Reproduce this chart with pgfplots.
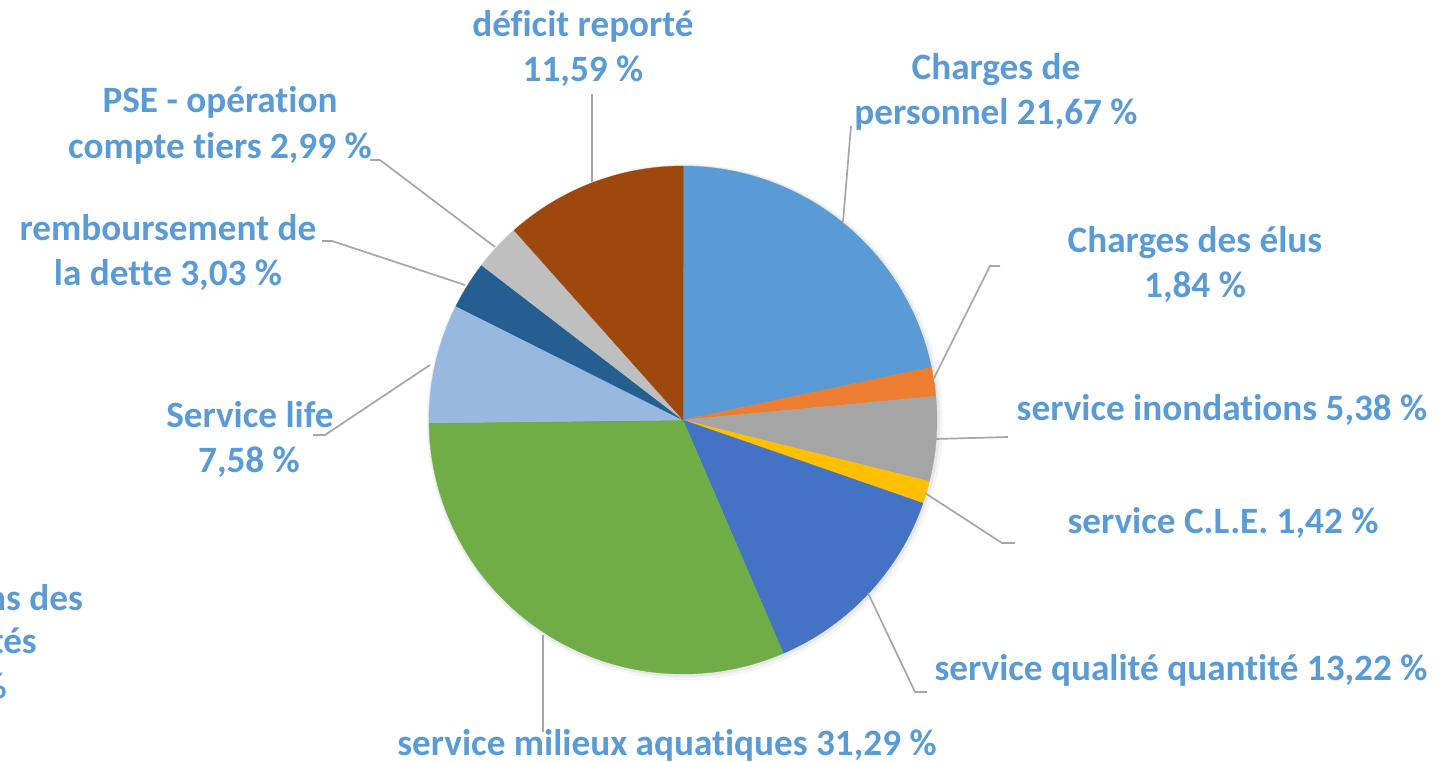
\documentclass[border=0pt]{standalone}
\usepackage{fontspec}
\setmainfont{Carlito}[Ligatures=NoCommon]
\usepackage{pgfplots}
\pgfplotsset{compat=1.18}

\definecolor{lbl}{HTML}{5B9BD5}
\definecolor{lead}{HTML}{A6A6A6}
\definecolor{cPers}{HTML}{5B9BD5}
\definecolor{cElus}{HTML}{ED7D31}
\definecolor{cInon}{HTML}{A5A5A5}
\definecolor{cCLE}{HTML}{FFC000}
\definecolor{cQual}{HTML}{4472C4}
\definecolor{cMil}{HTML}{70AD47}
\definecolor{cLife}{HTML}{97B9E0}
\definecolor{cDette}{HTML}{255E91}
\definecolor{cPSE}{HTML}{BFBFBF}
\definecolor{cDef}{HTML}{9E480E}

\newcommand\lf{\fontsize{37.2bp}{45bp}\selectfont\bfseries}
\tikzset{lab/.style={text=lbl, font=\lf, inner sep=0pt}}

\begin{document}
\begin{tikzpicture}
\begin{axis}[
  x=1bp, y=1bp,
  xmin=0, xmax=1445, ymin=0, ymax=762,
  y dir=reverse,
  hide axis, clip=false,
]
\coordinate (sw) at (axis cs:0,762);
\coordinate (ne) at (axis cs:1445,0);

% soft shadow
\addplot[fill=black, fill opacity=0.04, draw=none, domain=0:360, samples=150]
  ({685+258*cos(x)},{422-258*sin(x)});
\addplot[fill=black, fill opacity=0.06, draw=none, domain=0:360, samples=150]
  ({684+256*cos(x)},{421-256*sin(x)});

% slices, clockwise from 12 o'clock (values in %); the 0,00 % slice is not drawn
\def\cum{0}
\foreach \v/\col in {21.67/cPers, 1.84/cElus, 5.38/cInon, 1.42/cCLE, 13.22/cQual,
                     31.29/cMil, 7.58/cLife, 3.03/cDette, 2.99/cPSE, 11.59/cDef} {
  \pgfmathsetmacro\sa{90-3.6*\cum}
  \pgfmathsetmacro\sb{90-3.6*(\cum+\v)}
  \edef\temp{\noexpand\addplot[fill=\col, draw=\col, line width=0.3pt, domain=\sb:\sa, samples=80]
    ({683+254*cos(x)},{420-254*sin(x)}) -- (axis cs:683,420) -- cycle;}
  \temp
  \pgfmathsetmacro\newcum{\cum+\v}
  \global\let\cum\newcum
}

% leader lines
\pgfplotsset{leader/.style={lead, line width=1.7bp}}
\addplot[leader] coordinates {(592,182) (592,94)};
\addplot[leader] coordinates {(843,222) (851,126)};
\addplot[leader] coordinates {(933,380) (990,266) (1000,266)};
\addplot[leader] coordinates {(935,439) (1008,437)};
\addplot[leader] coordinates {(925,493) (1002,543) (1015,543)};
\addplot[leader] coordinates {(868,593) (915,692) (927,692)};
\addplot[leader] coordinates {(543,635) (543,732)};
\addplot[leader] coordinates {(430,365) (325,435) (313,435)};
\addplot[leader] coordinates {(465,285) (332,241) (322,241)};
\addplot[leader] coordinates {(495,247) (380,160) (370,160)};

% labels
\node[lab, anchor=base] at (axis cs:583,37) {déficit reporté};
\node[lab, anchor=base] at (axis cs:583,82) {11,59 \%};
\node[lab, anchor=base] at (axis cs:996,80) {Charges de};
\node[lab, anchor=base] at (axis cs:996,125) {personnel 21,67 \%};
\node[lab, anchor=base] at (axis cs:1195,252) {Charges des élus};
\node[lab, anchor=base] at (axis cs:1195,297) {1,84 \%};
\node[lab, anchor=base] at (axis cs:1222,420) {service inondations 5,38 \%};
\node[lab, anchor=base] at (axis cs:1223,533) {service C.L.E. 1,42 \%};
\node[lab, anchor=base] at (axis cs:1181,680) {service qualité quantité 13,22 \%};
\node[lab, anchor=base] at (axis cs:667,755) {service milieux aquatiques 31,29 \%};
\node[lab, anchor=base] at (axis cs:250,427) {Service life};
\node[lab, anchor=base] at (axis cs:249,472) {7,58 \%};
\node[lab, anchor=base] at (axis cs:168,240) {remboursement de};
\node[lab, anchor=base] at (axis cs:168,285) {la dette 3,03 \%};
\node[lab, anchor=base] at (axis cs:220,113) {PSE - opération};
\node[lab, anchor=base] at (axis cs:220,158) {compte tiers 2,99 \%};
\node[lab, anchor=base east] at (axis cs:83,610) {Participations des};
\node[lab, anchor=base east] at (axis cs:37,653) {collectivités};
\node[lab, anchor=base east] at (axis cs:7,698) {0,00 \%};
\end{axis}
\pgfresetboundingbox
\useasboundingbox (sw) rectangle (ne);
\end{tikzpicture}
\end{document}
